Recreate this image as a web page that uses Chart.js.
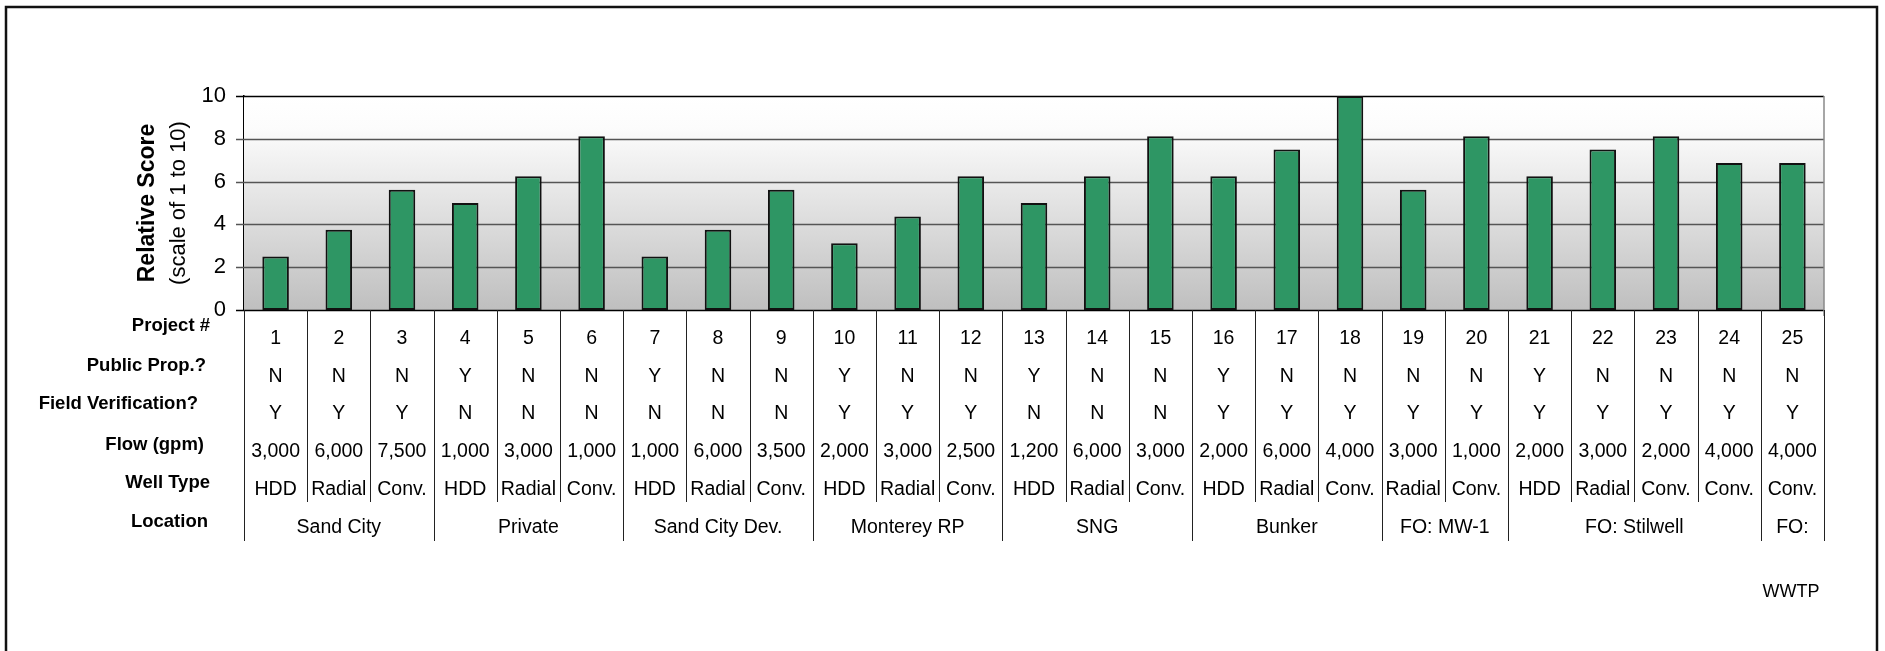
<!DOCTYPE html>
<html>
<head>
<meta charset="utf-8">
<script src="https://cdn.jsdelivr.net/npm/chart.js@4"></script>
<style>
body{margin:0;background:#fff;}
#wrap{width:1885px;height:651px;}
</style>
</head>
<body>
<div id="wrap"><canvas id="myChart" width="1885" height="651"></canvas></div>
<script>
// chart data
var projects=['1','2','3','4','5','6','7','8','9','10','11','12','13','14','15','16','17','18','19','20','21','22','23','24','25'];
var scores=[2.5,3.75,5.625,5,6.25,8.125,2.5,3.75,5.625,3.125,4.375,6.25,5,6.25,8.125,6.25,7.5,10,5.625,8.125,6.25,7.5,8.125,6.875,6.875];
var publicProp=['N','N','N','Y','N','N','Y','N','N','Y','N','N','Y','N','N','Y','N','N','N','N','Y','N','N','N','N'];
var fieldVerif=['Y','Y','Y','N','N','N','N','N','N','Y','Y','Y','N','N','N','Y','Y','Y','Y','Y','Y','Y','Y','Y','Y'];
var flowGpm=['3,000','6,000','7,500','1,000','3,000','1,000','1,000','6,000','3,500','2,000','3,000','2,500','1,200','6,000','3,000','2,000','6,000','4,000','3,000','1,000','2,000','3,000','2,000','4,000','4,000'];
var wellType=['HDD','Radial','Conv.','HDD','Radial','Conv.','HDD','Radial','Conv.','HDD','Radial','Conv.','HDD','Radial','Conv.','HDD','Radial','Conv.','Radial','Conv.','HDD','Radial','Conv.','Conv.','Conv.'];
var locations=['Sand City','Private','Sand City Dev.','Monterey RP','SNG','Bunker','FO: MW-1','FO: Stilwell','FO:'];
var locationSize=[3,3,3,3,3,3,2,4,1];
var rowLabels=['Project #','Public Prop.?','Field Verification?','Flow (gpm)','Well Type','Location'];
var yTicks=[0,2,4,6,8,10];

var FONT='"Liberation Sans", Arial, sans-serif';

var tablePlugin={
  id:'tablePlugin',
  beforeDatasetsDraw:function(chart){
    // gradient behind the bars
    var ctx=chart.ctx, a=chart.chartArea;
    ctx.save();
    var g=ctx.createLinearGradient(0,a.top,0,a.bottom);
    g.addColorStop(0,'#ffffff');
    g.addColorStop(0.15,'#fcfcfc');
    g.addColorStop(1,'#bfbfbf');
    ctx.fillStyle=g;
    ctx.fillRect(a.left,a.top,a.right-a.left,a.bottom-a.top);
    // grid on top of the fill
    var ys=chart.scales.y;
    yTicks.forEach(function(t){
      var py=Math.round(ys.getPixelForValue(t))+0.5;
      ctx.beginPath();
      ctx.strokeStyle=(t==0||t==10)?'#000':'#555';
      ctx.lineWidth=1.5;
      ctx.moveTo(a.left-8,py);ctx.lineTo(a.right,py);ctx.stroke();
    });
    ctx.restore();
  },
  afterDraw:function(chart){
    var ctx=chart.ctx, a=chart.chartArea, xs=chart.scales.x;
    var n=projects.length;
    var cw=(a.right-a.left)/n;
    ctx.save();
    // right edge
    ctx.strokeStyle='#888';ctx.lineWidth=1.5;
    ctx.beginPath();ctx.moveTo(a.right,a.top);ctx.lineTo(a.right,a.bottom+6);ctx.stroke();

    // column separators
    ctx.strokeStyle='#222';ctx.lineWidth=1;
    for(var i=0;i<=n;i++){
      var px=Math.round(a.left+i*cw)+0.5;
      ctx.beginPath();ctx.moveTo(px,a.bottom);ctx.lineTo(px,502);ctx.stroke();
    }
    // location group separators
    var c=0;
    var bounds=[0];
    locationSize.forEach(function(s){c+=s;bounds.push(c);});
    bounds.forEach(function(b){
      var px=Math.round(a.left+b*cw)+0.5;
      ctx.beginPath();ctx.moveTo(px,a.bottom);ctx.lineTo(px,541);ctx.stroke();
    });

    // row labels
    var labY=[326,366,404,445,483,522];
    var labX=[210,206,198,204,210,208];
    ctx.fillStyle='#000';
    ctx.font='bold 18.5px '+FONT;
    ctx.textAlign='right';ctx.textBaseline='middle';
    rowLabels.forEach(function(l,i){ctx.fillText(l,labX[i],labY[i]);});

    // cell values
    var valY=[339,377,414,452,490];
    var rows=[projects,publicProp,fieldVerif,flowGpm,wellType];
    ctx.font='19.5px '+FONT;
    ctx.textAlign='center';
    rows.forEach(function(r,ri){
      r.forEach(function(v,i){
        ctx.fillText(v,xs.getPixelForValue(i),valY[ri]);
      });
    });
    // locations
    c=0;
    locations.forEach(function(l,i){
      var x0=a.left+c*cw, x1=a.left+(c+locationSize[i])*cw;
      ctx.fillText(l,(x0+x1)/2,528);
      c+=locationSize[i];
    });
    ctx.font='18px '+FONT;
    ctx.fillText('WWTP',1791,592);

    // y axis title
    var ys=chart.scales.y;
    var cy=(ys.top+ys.bottom)/2;
    ctx.save();
    ctx.translate(148,cy);ctx.rotate(-Math.PI/2);
    ctx.font='bold 23px '+FONT;
    ctx.fillText('Relative Score',0,0);
    ctx.restore();
    ctx.save();
    ctx.translate(179,cy);ctx.rotate(-Math.PI/2);
    ctx.font='22px '+FONT;
    ctx.fillText('(scale of 1 to 10)',0,0);
    ctx.restore();

    // outer frame
    ctx.strokeStyle='#111';ctx.lineWidth=2.5;
    ctx.strokeRect(6,7,1871,700);
    ctx.restore();
  }
};

var ctx=document.getElementById('myChart').getContext('2d');
var chart=new Chart(ctx,{
  type:'bar',
  data:{
    labels:projects,
    datasets:[{
      label:'Relative Score',
      data:scores,
      backgroundColor:'#2e9664',
      borderColor:'#111',
      borderWidth:2,
      borderSkipped:false,
      barPercentage:0.42,
      categoryPercentage:1
    }]
  },
  options:{
    responsive:false,
    animation:false,
    layout:{padding:{left:0,right:61,top:96,bottom:341}},
    plugins:{legend:{display:false},tooltip:{enabled:false}},
    scales:{
      x:{display:false,grid:{display:false}},
      y:{
        min:0,max:10,
        afterFit:function(s){s.width=244;},
        afterBuildTicks:function(s){s.ticks=yTicks.map(function(v){return {value:v};});},
        grid:{display:false,drawTicks:false},
        border:{display:true,color:'#000',width:1.5},
        ticks:{color:'#000',padding:18,font:{size:22,family:FONT}}
      }
    }
  },
  plugins:[tablePlugin]
});
</script>
</body>
</html>
